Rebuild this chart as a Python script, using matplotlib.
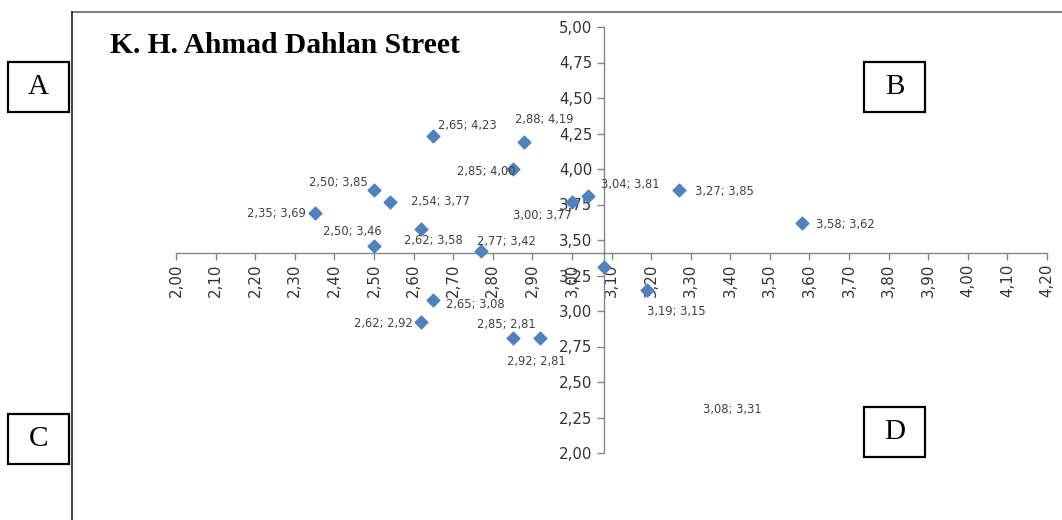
import matplotlib
matplotlib.use('Agg')
import matplotlib.pyplot as plt
from matplotlib.ticker import FuncFormatter, MultipleLocator
from matplotlib.patches import Rectangle
from matplotlib.lines import Line2D

# performance (x) vs importance (y) values
x_vals = [2.65, 2.88, 2.85, 2.50, 2.54, 2.35, 2.50, 2.62, 2.77, 3.00,
          3.04, 3.27, 3.58, 3.19, 3.08, 2.65, 2.62, 2.85, 2.92]
y_vals = [4.23, 4.19, 4.00, 3.85, 3.77, 3.69, 3.46, 3.58, 3.42, 3.77,
          3.81, 3.85, 3.62, 3.15, 3.31, 3.08, 2.92, 2.81, 2.81]

x_cross = 3.08
y_cross = 3.41

title = 'K. H. Ahmad Dahlan Street'
quadrants = ['A', 'B', 'C', 'D']

# label placement (pixel offsets from marker, horizontal alignment)
label_offsets = [(5, 11, 'left'), (-9, 23, 'left'), (3, -2, 'right'),
                 (-6, 8, 'right'), (21, 0, 'left'), (-9, 0, 'right'),
                 (8, 14, 'right'), (-17, -12, 'left'), (-4, 10, 'left'),
                 (0, -14, 'right'), (13, 11, 'left'), (16, -1, 'left'),
                 (14, -2, 'left'), (0, -22, 'left'), (99, -143, 'left'),
                 (13, -5, 'left'), (-9, -1, 'right'), (-36, 13, 'left'),
                 (-33, -24, 'left')]


def comma(v, pos=None):
    return f'{v:.2f}'.replace('.', ',')


W, H = 1062, 520
fig = plt.figure(figsize=(W / 100, H / 100), dpi=100)
ax = fig.add_axes([176 / W, (H - 453) / H, 871 / W, 426 / H])

ax.scatter(x_vals, y_vals, marker='D', s=42, color='#4F81BD', zorder=3, clip_on=False)

for x, y, (dx, dy, ha) in zip(x_vals, y_vals, label_offsets):
    ax.annotate(f'{comma(x)}; {comma(y)}', (x, y), xytext=(dx, dy),
                textcoords='offset pixels', ha=ha, va='center',
                fontsize=8.3, color='#404040')

ax.set_xlim(2.0, 4.2)
ax.set_ylim(2.0, 5.0)
ax.xaxis.set_major_locator(MultipleLocator(0.1))
ax.yaxis.set_major_locator(MultipleLocator(0.25))
ax.xaxis.set_major_formatter(FuncFormatter(comma))
ax.yaxis.set_major_formatter(FuncFormatter(comma))

ax.spines['left'].set_position(('data', x_cross))
ax.spines['bottom'].set_position(('data', y_cross))
for s in ['top', 'right']:
    ax.spines[s].set_visible(False)
for s in ['left', 'bottom']:
    ax.spines[s].set_color('#868686')
    ax.spines[s].set_linewidth(1)

ax.tick_params(axis='both', direction='out', length=5, width=1, color='#868686',
               labelsize=10.8, labelcolor='#333333', pad=3)
ax.tick_params(axis='x', labelrotation=90)
ax.patch.set_alpha(0)

# chart area border (top and left edges visible)
fig.add_artist(Line2D([72 / W, 1], [1 - 12 / H, 1 - 12 / H], color='#7f7f7f', lw=1.5))
fig.add_artist(Line2D([72 / W, 72 / W], [0, 1 - 12 / H], color='#222222', lw=1.2))

fig.text(110 / W, 1 - 53 / H, title, fontsize=21.3, fontweight='bold',
         family='Liberation Serif', va='baseline', ha='left')

boxes = [(8, 62), (864, 62), (8, 414), (864, 407)]
for letter, (bx, by) in zip(quadrants, boxes):
    bw, bh = 61, 50
    fig.add_artist(Rectangle((bx / W, 1 - (by + bh) / H), bw / W, bh / H,
                             fill=False, edgecolor='black', lw=1.6,
                             transform=fig.transFigure))
    fig.text((bx + bw / 2) / W, 1 - (by + bh / 2) / H, letter, fontsize=21,
             family='Liberation Serif', ha='center', va='center')

fig.savefig('out.png', dpi=100)
